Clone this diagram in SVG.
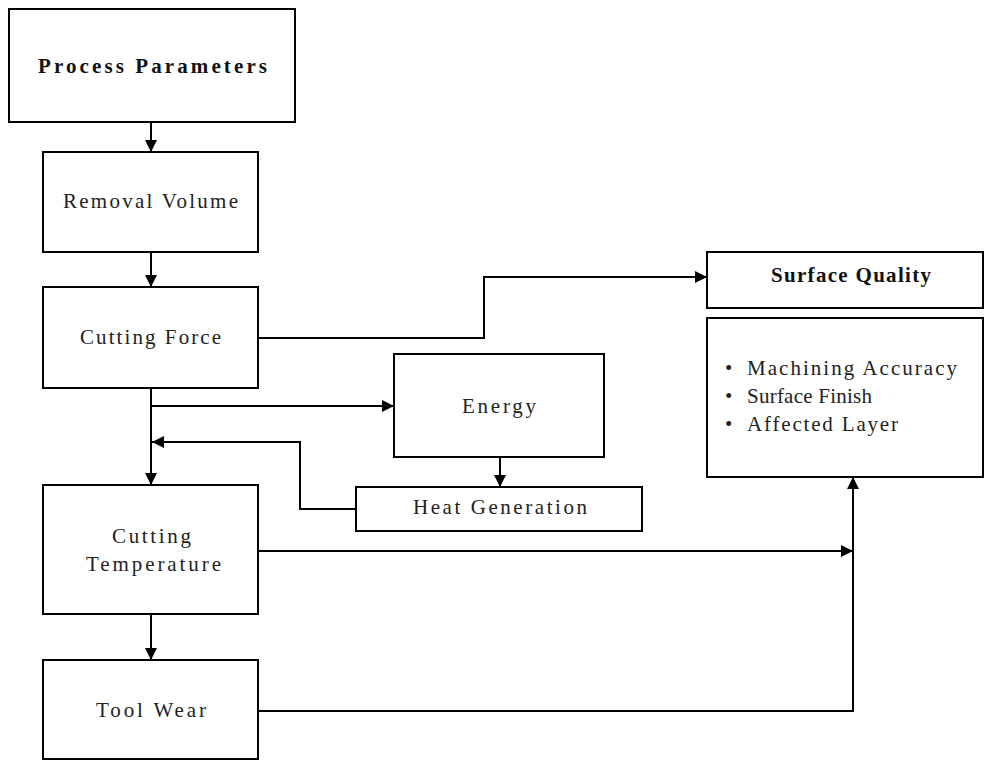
<svg xmlns="http://www.w3.org/2000/svg" width="984" height="760" viewBox="0 0 984 760">
<style>
.box{fill:#fff;stroke:#000;stroke-width:2}
.t{font-family:"Liberation Serif","DejaVu Serif",serif;font-size:21px;fill:#222}
.b{font-weight:bold;fill:#111}
.c{fill:none;stroke:#000;stroke-width:2}
</style>
<defs>
<marker id="ah" viewBox="0 0 10 10" refX="10" refY="5" markerWidth="6" markerHeight="6" orient="auto" markerUnits="strokeWidth">
<path d="M0,0L10,5L0,10z" fill="#000"/>
</marker>
</defs>
<rect width="984" height="760" fill="#fff"/>
<g id="connectors">
<path class="c" d="M151,122V152" marker-end="url(#ah)"/>
<path class="c" d="M151,252V287" marker-end="url(#ah)"/>
<path class="c" d="M151,388V485" marker-end="url(#ah)"/>
<path class="c" d="M151,406H394" marker-end="url(#ah)"/>
<path class="c" d="M356,509H300V442H152" marker-end="url(#ah)"/>
<path class="c" d="M500,457V487" marker-end="url(#ah)"/>
<path class="c" d="M258,338H484V277H707" marker-end="url(#ah)"/>
<path class="c" d="M258,551H853" marker-end="url(#ah)"/>
<path class="c" d="M258,711H853V477" marker-end="url(#ah)"/>
<path class="c" d="M151,614V660" marker-end="url(#ah)"/>
</g>
<g id="process-parameters">
<rect class="box" x="9" y="9" width="286" height="113"/>
<text class="t b" x="38" y="73" font-size="25" textLength="229">Process Parameters</text>
</g>
<g id="removal-volume">
<rect class="box" x="43" y="152" width="215" height="100"/>
<text class="t" x="63" y="208" textLength="175">Removal Volume</text>
</g>
<g id="cutting-force">
<rect class="box" x="43" y="287" width="215" height="101"/>
<text class="t" x="80" y="344" textLength="141">Cutting Force</text>
</g>
<g id="energy">
<rect class="box" x="394" y="354" width="210" height="103"/>
<text class="t" x="462" y="413" textLength="74">Energy</text>
</g>
<g id="heat-generation">
<rect class="box" x="356" y="487" width="286" height="44"/>
<text class="t" x="413" y="514" textLength="174">Heat Generation</text>
</g>
<g id="cutting-temperature">
<rect class="box" x="43" y="485" width="215" height="129"/>
<text class="t" x="112" y="543" textLength="79">Cutting</text>
<text class="t" x="86" y="571" textLength="135">Temperature</text>
</g>
<g id="tool-wear">
<rect class="box" x="43" y="660" width="215" height="99"/>
<text class="t" x="96" y="717" textLength="110">Tool Wear</text>
</g>
<g id="surface-quality">
<rect class="box" x="707" y="252" width="276" height="56"/>
<text class="t b" x="771" y="282" font-size="21" textLength="160">Surface Quality</text>
</g>
<g id="surface-quality-items">
<rect class="box" x="707" y="318" width="276" height="159"/>
<text class="t" x="725" y="375">•</text>
<text class="t" x="747" y="375" textLength="210">Machining Accuracy</text>
<text class="t" x="725" y="403">•</text>
<text class="t" x="747" y="403" textLength="125">Surface Finish</text>
<text class="t" x="725" y="431">•</text>
<text class="t" x="747" y="431" textLength="151">Affected Layer</text>
</g>
</svg>
